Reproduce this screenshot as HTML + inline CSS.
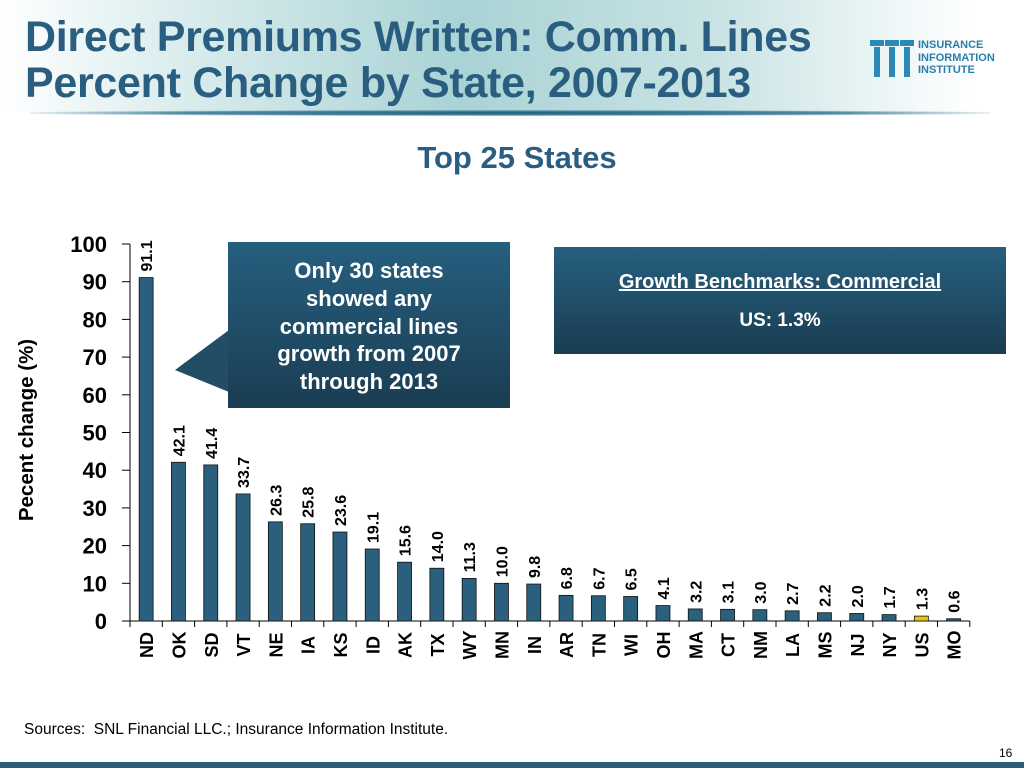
<!DOCTYPE html>
<html><head><meta charset="utf-8"><style>
body{margin:0;width:1024px;height:768px;overflow:hidden;background:#fff;font-family:"Liberation Sans",Arial,sans-serif;position:relative}
.hdr{position:absolute;left:0;top:0;width:1024px;height:112px;background:linear-gradient(90deg,#ffffff 0%,#dfeff0 15%,#a9d3d5 45%,#c9e3e4 70%,#ffffff 95%)}
.title{position:absolute;left:25px;top:14px;font-size:43px;font-weight:bold;color:#2a5e80;line-height:46px;letter-spacing:-0.3px}
.rule{position:absolute;left:30px;top:110px;width:960px;height:6px;background:radial-gradient(ellipse at center,#1f5c7a 0%,#4f8aa3 50%,rgba(255,255,255,0) 75%)}
.logo{position:absolute;left:870px;top:38px}
.logotxt{position:absolute;left:918px;top:39px;font-size:11px;font-weight:bold;color:#2a7fa8;line-height:12.5px}
.sub{position:absolute;left:0;width:1034px;top:140px;text-align:center;font-size:31px;font-weight:bold;color:#2a5e80}
.foot{position:absolute;left:24px;top:721px;font-size:15.5px;color:#000}
.pg{position:absolute;left:999px;top:746px;font-size:12px;color:#000}
.bot{position:absolute;left:0;top:762px;width:1024px;height:6px;background:#2b5c7a}
</style></head><body>
<div class="hdr"></div>
<div class="title">Direct Premiums Written: Comm. Lines<br>Percent Change by State, 2007-2013</div>
<div class="rule"></div>
<svg class="logo" width="46" height="40">
<g fill="#2a8ab5"><rect x="0" y="2" width="14" height="6"/><rect x="15" y="2" width="14" height="6"/><rect x="30" y="2" width="14" height="6"/>
<rect x="4" y="9" width="6" height="30"/><rect x="19" y="9" width="6" height="30"/><rect x="34" y="9" width="6" height="30"/></g></svg>
<div class="logotxt">INSURANCE<br>INFORMATION<br>INSTITUTE</div>
<div class="sub">Top 25 States</div>
<svg id="chart" width="1024" height="768" style="position:absolute;left:0;top:0">
<defs><linearGradient id="bx" x1="0" y1="0" x2="0" y2="1"><stop offset="0" stop-color="#265f7f"/><stop offset="1" stop-color="#1a3d52"/></linearGradient></defs>
<g>
<polygon points="229,330 175,370 229,392" fill="#214d67"/>
<rect x="228" y="242" width="282" height="166" fill="url(#bx)"/>
<text x="369" y="278" text-anchor="middle" fill="#fff" font-size="22" font-weight="bold">Only 30 states</text>
<text x="369" y="306" text-anchor="middle" fill="#fff" font-size="22" font-weight="bold">showed any</text>
<text x="369" y="334" text-anchor="middle" fill="#fff" font-size="22" font-weight="bold">commercial lines</text>
<text x="369" y="361" text-anchor="middle" fill="#fff" font-size="22" font-weight="bold">growth from 2007</text>
<text x="369" y="389" text-anchor="middle" fill="#fff" font-size="22" font-weight="bold">through 2013</text>
</g>
<g>
<rect x="554" y="247" width="452" height="107" fill="url(#bx)"/>
<text x="780" y="288" text-anchor="middle" fill="#fff" font-size="20" font-weight="bold" text-decoration="underline">Growth Benchmarks: Commercial</text>
<text x="780" y="326" text-anchor="middle" fill="#fff" font-size="19" font-weight="bold">US: 1.3%</text>
</g>
<text transform="translate(33,430) rotate(-90)" text-anchor="middle" font-size="20.5" font-weight="bold" fill="#000">Pecent change (%)</text>
<g id="plot"></g>
</svg>
<div class="foot">Sources:&nbsp; SNL Financial LLC.; Insurance Information Institute.</div>
<div class="pg">16</div>
<div class="bot"></div>
<script>
const categories=["ND","OK","SD","VT","NE","IA","KS","ID","AK","TX","WY","MN","IN","AR","TN","WI","OH","MA","CT","NM","LA","MS","NJ","NY","US","MO"];
const values=[91.1,42.1,41.4,33.7,26.3,25.8,23.6,19.1,15.6,14.0,11.3,10.0,9.8,6.8,6.7,6.5,4.1,3.2,3.1,3.0,2.7,2.2,2.0,1.7,1.3,0.6];
const yTicks=[0,10,20,30,40,50,60,70,80,90,100];
const highlight=["US"];
const NS="http://www.w3.org/2000/svg";
const g=document.getElementById('plot');
const x0=130,band=32.3,yBase=621,yTop=244,yMax=100;
const y=v=>yBase-(v/yMax)*(yBase-yTop);
const xc=i=>x0+band*(i+0.5);
function mk(t,a){const e=document.createElementNS(NS,t);for(const k in a)e.setAttribute(k,a[k]);g.appendChild(e);return e;}
let ax=mk('line',{x1:122,y1:y(yMax),x2:x0,y2:y(yMax),stroke:'#000'});
ax=mk('line',{x1:x0,y1:y(yMax),x2:x0,y2:yBase,stroke:'#000'});


const xa=mk('line',{x1:x0,y1:yBase,x2:x0+band*categories.length,y2:yBase,stroke:'#000'});


yTicks.forEach(t=>{
 mk('line',{x1:122,y1:y(t),x2:x0,y2:y(t),stroke:'#000'});
 const tx=mk('text',{x:107,y:y(t)+8,'text-anchor':'end','font-size':22,'font-weight':'bold'});
 tx.textContent=t;
 
 
});
for(let i=0;i<=categories.length;i++)mk('line',{x1:x0+band*i,y1:yBase,x2:x0+band*i,y2:yBase+6,stroke:'#000'});
categories.forEach((c,i)=>{
 const v=values[i],cx=xc(i);
 const r=mk('rect',{x:cx-7,y:y(v),width:14,height:yBase-y(v),fill:highlight.includes(c)?'#e8c21a':'#2b5f7e',stroke:'#111','stroke-width':0.8});
 
 
 const vl=mk('text',{transform:`translate(${cx+6},${y(v)-6}) rotate(-90)`,'font-size':16,'font-weight':'bold'});
 vl.textContent=v.toFixed(1);
 
 
 const cl=mk('text',{transform:`translate(${cx+7},645) rotate(-90)`,'text-anchor':'middle','font-size':18,'font-weight':'bold'});
 cl.textContent=c;
 
 
});
</script>
</body></html>
